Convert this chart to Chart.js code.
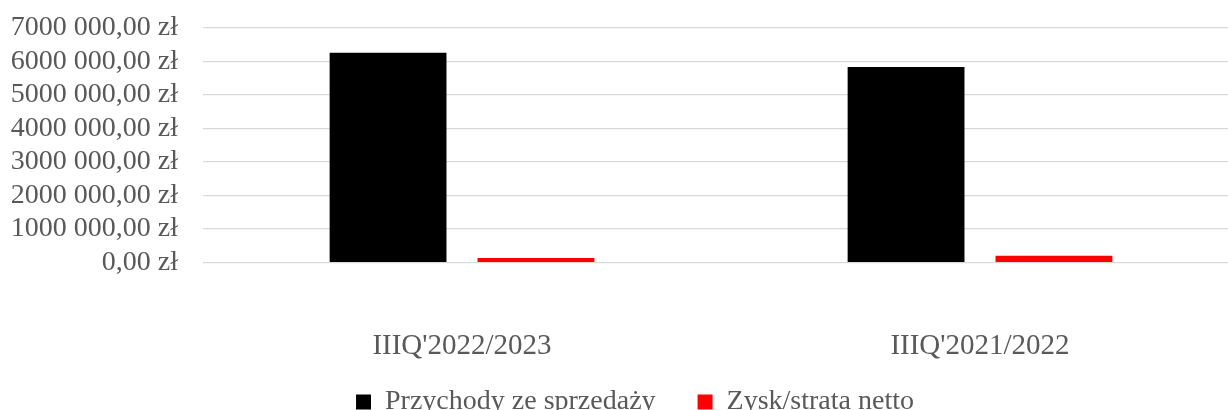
<!DOCTYPE html>
<html>
<head>
<meta charset="utf-8">
<script src="https://cdn.jsdelivr.net/npm/chart.js@4"></script>
<style>
html, body { margin: 0; padding: 0; background: #fff; overflow: hidden; }
#wrap { width: 1239px; height: 410px; position: relative; }
</style>
</head>
<body>
<div id="wrap"><canvas id="myChart"></canvas></div>
<script>
const categories = ["IIIQ'2022/2023", "IIIQ'2021/2022"];
const revenue = [6255000, 5830000];
const netProfit = [140000, 208000];
const tickLabels = ['0,00 zł', '1000 000,00 zł', '2000 000,00 zł', '3000 000,00 zł',
    '4000 000,00 zł', '5000 000,00 zł', '6000 000,00 zł', '7000 000,00 zł'];

Chart.defaults.font.family = "'Liberation Serif', serif";
Chart.defaults.font.size = 28;
Chart.defaults.color = '#595959';

// legend sits a bit right of the canvas middle and close to the bottom edge
const legendShift = {
    id: 'legendShift',
    afterLayout(chart) {
        const lg = chart.legend;
        const h = lg.height;
        lg.left = 31;
        lg.top = 346;
        lg.bottom = 346 + h;
    }
};

const ctx = document.getElementById('myChart');
const myChart = new Chart(ctx, {
    type: 'bar',
    data: {
        labels: categories,
        datasets: [{
            label: 'Przychody ze sprzedaży',
            data: revenue,
            backgroundColor: '#000000',
            categoryPercentage: 0.571,
            barPercentage: 0.79
        }, {
            label: 'Zysk/strata netto',
            data: netProfit,
            backgroundColor: '#ff0000',
            categoryPercentage: 0.571,
            barPercentage: 0.79
        }]
    },
    plugins: [legendShift],
    options: {
        responsive: true,
        maintainAspectRatio: false,
        animation: false,
        layout: {
            padding: { left: 0, top: 27.7, right: 0, bottom: -32.7 }
        },
        plugins: {
            legend: {
                position: 'bottom',
                labels: {
                    boxWidth: 15,
                    boxHeight: 15,
                    padding: 42,
                    font: { size: 28 }
                }
            },
            tooltip: { enabled: false }
        },
        scales: {
            x: {
                afterFit: function(scale) { scale.height = 100; },
                grid: { display: false, drawTicks: false },
                border: { display: false },
                ticks: { padding: 66, font: { size: 29 } }
            },
            y: {
                min: 0,
                max: 7000000,
                afterFit: function(scale) {
                    scale.width = 203;
                    scale.paddingTop = 0;
                    scale.paddingBottom = 0;
                },
                grid: { color: '#d9d9d9', lineWidth: 1.3, drawTicks: false },
                border: { display: false },
                ticks: {
                    stepSize: 1000000,
                    autoSkip: false,
                    padding: 25,
                    callback: function(value, index) { return tickLabels[index]; }
                }
            }
        }
    }
});
</script>
</body>
</html>
